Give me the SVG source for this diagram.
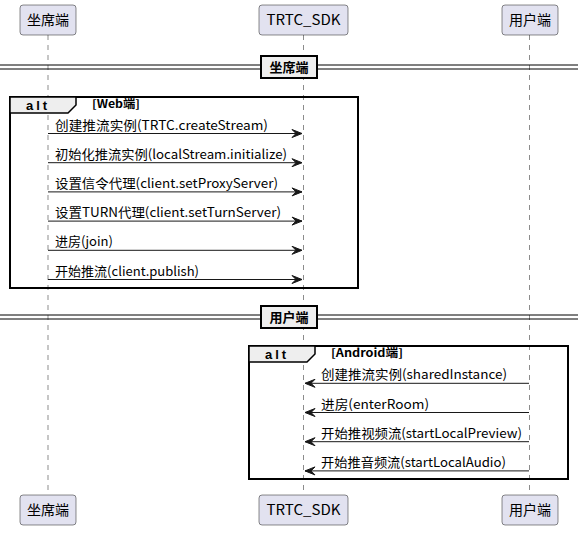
<svg xmlns="http://www.w3.org/2000/svg" width="586" height="533" viewBox="0 0 586 533">
<style>
.part rect{fill:#E2E2F0;stroke:#181818;stroke-width:0.5}
.part text{font-family:"Noto Sans CJK SC","Liberation Sans",sans-serif;font-size:14px;fill:#000;text-anchor:middle}
.life{stroke:#181818;stroke-width:0.5;stroke-dasharray:5,5;fill:none}
.msg line{stroke:#181818;stroke-width:1}
.msg polygon{fill:#181818;stroke:#181818;stroke-width:1}
.mt{font-family:"Noto Sans CJK SC","Liberation Sans",sans-serif;font-size:13px;fill:#000}
.frame{fill:none;stroke:#000;stroke-width:2}
.tab{fill:#EEEEEE;stroke:#000;stroke-width:1.5}
.alt{font-family:"Liberation Sans","Noto Sans CJK SC",sans-serif;font-size:13px;font-weight:bold;letter-spacing:3px;fill:#000}
.guard{font-family:"Noto Sans CJK SC","Liberation Sans",sans-serif;font-size:11px;font-weight:bold;fill:#000}
.sepl{stroke:#000;stroke-width:1;fill:none}
.sepbox{fill:#EEEEEE;stroke:#000;stroke-width:2}
.sept{font-family:"Noto Sans CJK SC","Liberation Sans",sans-serif;font-size:13px;font-weight:bold;fill:#000;text-anchor:middle}
</style>
<g id="lifelines">
<line class="life" x1="48" y1="35" x2="48" y2="495"/>
<line class="life" x1="303.5" y1="35" x2="303.5" y2="495"/>
<line class="life" x1="529.5" y1="35" x2="529.5" y2="495"/>
</g>
<g id="participant-zuoxi-top" class="part"><rect x="20" y="5" width="56" height="30" rx="3"/><text x="48" y="25">坐席端</text></g>
<g id="participant-sdk-top" class="part"><rect x="259" y="5" width="89" height="30" rx="3"/><text x="303.5" y="25" textLength="74" lengthAdjust="spacingAndGlyphs">TRTC_SDK</text></g>
<g id="participant-user-top" class="part"><rect x="502" y="5" width="56" height="30" rx="3"/><text x="530" y="25">用户端</text></g>
<g id="participant-zuoxi-bottom" class="part"><rect x="20" y="495" width="56" height="30" rx="3"/><text x="48" y="515">坐席端</text></g>
<g id="participant-sdk-bottom" class="part"><rect x="259" y="495" width="89" height="30" rx="3"/><text x="303.5" y="515" textLength="74" lengthAdjust="spacingAndGlyphs">TRTC_SDK</text></g>
<g id="participant-user-bottom" class="part"><rect x="502" y="495" width="56" height="30" rx="3"/><text x="530" y="515">用户端</text></g>
<g id="separator-1">
<line class="sepl" x1="0" y1="65" x2="578" y2="65"/>
<line class="sepl" x1="0" y1="69" x2="578" y2="69"/>
<rect class="sepbox" x="261" y="56" width="56" height="22"/>
<text class="sept" x="289" y="72">坐席端</text>
</g>
<g id="alt-web">
<rect class="frame" x="10" y="97" width="348" height="191"/>
<path class="tab" d="M10,97 H76 V105 L68,113 H10 Z"/>
<text class="alt" x="26" y="110">alt</text>
<text class="guard" x="92" y="108" textLength="48" lengthAdjust="spacingAndGlyphs">[Web端]</text>
</g>
<g id="separator-2">
<line class="sepl" x1="0" y1="315" x2="578" y2="315"/>
<line class="sepl" x1="0" y1="319" x2="578" y2="319"/>
<rect class="sepbox" x="261" y="306" width="56" height="22"/>
<text class="sept" x="289" y="322">用户端</text>
</g>
<g id="alt-android">
<rect class="frame" x="249" y="346" width="319" height="133"/>
<path class="tab" d="M249,346 H315 V354 L307,362 H249 Z"/>
<text class="alt" x="265" y="359">alt</text>
<text class="guard" x="331" y="357" textLength="72" lengthAdjust="spacingAndGlyphs">[Android端]</text>
</g>
<g id="connectors" class="msg">
<line x1="48" y1="133.5" x2="302" y2="133.5"/><polygon points="292,129.5 302,133.5 292,137.5 296,133.5"/>
<line x1="48" y1="162.7" x2="302" y2="162.7"/><polygon points="292,158.7 302,162.7 292,166.7 296,162.7"/>
<line x1="48" y1="191.9" x2="302" y2="191.9"/><polygon points="292,187.9 302,191.9 292,195.9 296,191.9"/>
<line x1="48" y1="221.1" x2="302" y2="221.1"/><polygon points="292,217.1 302,221.1 292,225.1 296,221.1"/>
<line x1="48" y1="250.3" x2="302" y2="250.3"/><polygon points="292,246.3 302,250.3 292,254.3 296,250.3"/>
<line x1="48" y1="279.5" x2="302" y2="279.5"/><polygon points="292,275.5 302,279.5 292,283.5 296,279.5"/>
<line x1="529" y1="383.3" x2="305" y2="383.3"/><polygon points="315,379.3 305,383.3 315,387.3 311,383.3"/>
<line x1="529" y1="412.5" x2="305" y2="412.5"/><polygon points="315,408.5 305,412.5 315,416.5 311,412.5"/>
<line x1="529" y1="441.7" x2="305" y2="441.7"/><polygon points="315,437.7 305,441.7 315,445.7 311,441.7"/>
<line x1="529" y1="470.9" x2="305" y2="470.9"/><polygon points="315,466.9 305,470.9 315,474.9 311,470.9"/>
</g>
<g id="message-labels">
<text class="mt" x="55" y="129.5" textLength="213" lengthAdjust="spacingAndGlyphs">创建推流实例(TRTC.createStream)</text>
<text class="mt" x="55" y="158.7" textLength="232" lengthAdjust="spacingAndGlyphs">初始化推流实例(localStream.initialize)</text>
<text class="mt" x="55" y="187.9" textLength="223" lengthAdjust="spacingAndGlyphs">设置信令代理(client.setProxyServer)</text>
<text class="mt" x="55" y="217.1" textLength="226" lengthAdjust="spacingAndGlyphs">设置TURN代理(client.setTurnServer)</text>
<text class="mt" x="55" y="246.3" textLength="58" lengthAdjust="spacingAndGlyphs">进房(join)</text>
<text class="mt" x="55" y="275.5" textLength="144" lengthAdjust="spacingAndGlyphs">开始推流(client.publish)</text>
<text class="mt" x="321" y="379.3" textLength="186" lengthAdjust="spacingAndGlyphs">创建推流实例(sharedInstance)</text>
<text class="mt" x="321" y="408.5" textLength="108" lengthAdjust="spacingAndGlyphs">进房(enterRoom)</text>
<text class="mt" x="321" y="437.7" textLength="201" lengthAdjust="spacingAndGlyphs">开始推视频流(startLocalPreview)</text>
<text class="mt" x="321" y="466.9" textLength="185" lengthAdjust="spacingAndGlyphs">开始推音频流(startLocalAudio)</text>
</g>
</svg>
